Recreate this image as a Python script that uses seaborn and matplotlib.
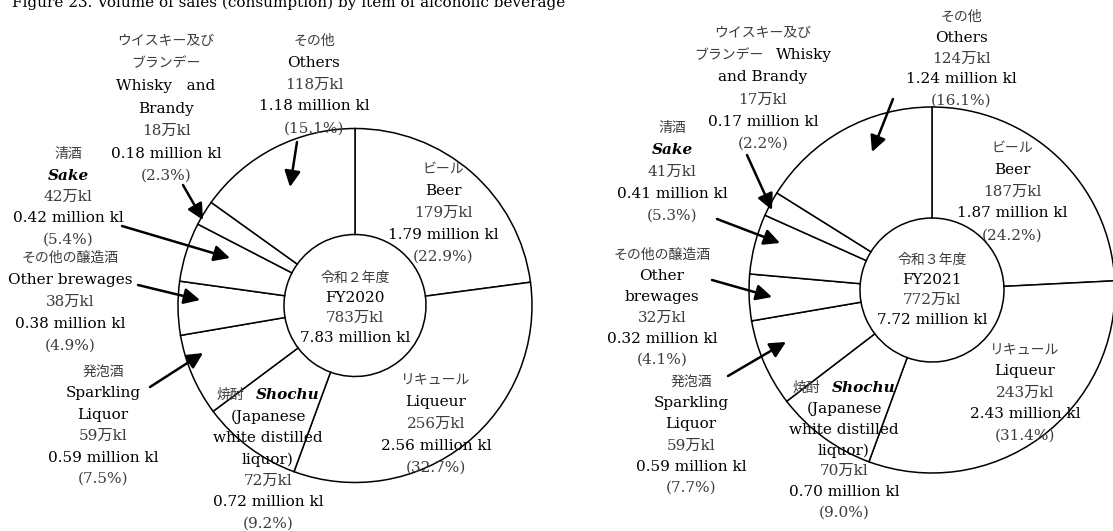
"""Two donut charts: volume of alcoholic beverage sales by item, FY2020 vs FY2021."""
import matplotlib

matplotlib.use("Agg")
import matplotlib.pyplot as plt
import seaborn as sns

W, H = 1113, 531

TITLE = "Figure 23. Volume of sales (consumption) by item of alcoholic beverage"

# wedges go clockwise from 12 o'clock in this order
CATEGORIES = ["beer", "liqueur", "shochu", "sparkling", "other_brew", "sake", "whisky", "others"]

FY2020_MAN_KL = [179, 256, 72, 59, 38, 42, 18, 118]
FY2020_SHARE = [22.9, 32.7, 9.2, 7.5, 4.9, 5.4, 2.3, 15.1]
FY2020_TOTAL = 783
FY2020_CENTRE = ["令和２年度", "FY2020"]

FY2021_MAN_KL = [187, 243, 70, 59, 32, 41, 17, 124]
FY2021_SHARE = [24.2, 31.4, 9.0, 7.7, 4.1, 5.3, 2.2, 16.1]
FY2021_TOTAL = 772
FY2021_CENTRE = ["令和３年度", "FY2021"]

# name lines per category; a tuple is Japanese + English on one line
FY2020_NAMES = [
    ["ビール", "Beer"],
    ["リキュール", "Liqueur"],
    [("焼酎", "Shochu"), "(Japanese", "white distilled", "liquor)"],
    ["発泡酒", "Sparkling", "Liquor"],
    ["その他の醸造酒", "Other brewages"],
    ["清酒", "Sake"],
    ["ウイスキー及び", "ブランデー", "Whisky   and", "Brandy"],
    ["その他", "Others"],
]
FY2021_NAMES = [
    ["ビール", "Beer"],
    ["リキュール", "Liqueur"],
    [("焼酎", "Shochu"), "(Japanese", "white distilled", "liquor)"],
    ["発泡酒", "Sparkling", "Liquor"],
    ["その他の醸造酒", "Other", "brewages"],
    ["清酒", "Sake"],
    ["ウイスキー及び", ("ブランデー", "Whisky"), "and Brandy"],
    ["その他", "Others"],
]
ITALIC_WORDS = {"Sake", "Shochu"}

# ---- layout (pixel coordinates, y downwards) ----
LEFT = dict(
    centre=(355, 305.5), r_out=177, r_in=71, centre_text_y=278,
    labels=[(443, 169), (436, 380), (268, 395), (103, 372),
            (70, 258), (68, 154), (166, 41), (314, 41)],
    steps=[22, 22, 21.5, 21.4, 22, 21.5, 22.5, 21.8],
    arrows={
        "sparkling": ((150, 387), (203, 353)),
        "other_brew": ((138, 285), (200, 300)),
        "sake": ((122, 226), (230, 258)),
        "whisky": ((183, 185), (203, 220)),
        "others": ((297, 142), (290, 187)),
    },
)
RIGHT = dict(
    centre=(932, 290), r_out=183, r_in=72, centre_text_y=260,
    labels=[(1012, 148), (1025, 350), (844, 388), (691, 382),
            (662, 255), (672, 128), (763, 33), (961, 17)],
    steps=[21.8, 21.3, 20.8, 21.2, 21, 22, 22.2, 20.8],
    arrows={
        "sparkling": ((728, 376), (786, 342)),
        "other_brew": ((712, 280), (772, 297)),
        "sake": ((717, 219), (780, 243)),
        "whisky": ((747, 155), (772, 210)),
        "others": ((893, 99), (872, 152)),
    },
)

GREY = "#3c3c3c"
EN_SIZE = 11
JP_SIZE = 10


def is_japanese(s: str) -> bool:
    return any(ord(c) > 127 for c in s)


def style_for(s: str, kind: str = "name") -> dict:
    if kind in ("amount", "share") or is_japanese(s):
        return dict(color=GREY, fontsize=JP_SIZE if is_japanese(s) and kind == "name" else EN_SIZE)
    st = dict(color="black", fontsize=EN_SIZE)
    if s in ITALIC_WORDS:
        st.update(style="italic", fontweight="bold")
    return st


def put_line(ax, renderer, x, y, line, kind="name"):
    if isinstance(line, tuple):
        jp, en = line
        t1 = ax.text(0, y, jp, ha="left", va="center", **style_for(jp))
        t2 = ax.text(0, y, en, ha="left", va="center", **style_for(en))
        w1 = t1.get_window_extent(renderer).width
        w2 = t2.get_window_extent(renderer).width
        gap = 12
        x0 = x - (w1 + gap + w2) / 2
        t1.set_x(x0)
        t2.set_x(x0 + w1 + gap)
    else:
        ax.text(x, y, line, ha="center", va="center", **style_for(line, kind))


def draw_year(ax, renderer, lay, man_kl, share, total, names, centre_lines):
    ax.pie(
        share, center=lay["centre"], radius=lay["r_out"],
        startangle=-90, counterclock=True,  # y axis is flipped
        colors=["white"] * len(share),
        wedgeprops=dict(width=lay["r_out"] - lay["r_in"], edgecolor="black", linewidth=1.1),
    )
    for i, cat in enumerate(CATEGORIES):
        x, y = lay["labels"][i]
        step = lay["steps"][i]
        lines = [(l, "name") for l in names[i]]
        lines += [(f"{man_kl[i]}万kl", "amount"),
                  (f"{man_kl[i] / 100:.2f} million kl", "million"),
                  (f"({share[i]:.1f}%)", "share")]
        for k, (txt, kind) in enumerate(lines):
            put_line(ax, renderer, x, y + k * step, txt, kind)
        if cat in lay["arrows"]:
            start, tip = lay["arrows"][cat]
            ax.annotate("", xy=tip, xytext=start,
                        arrowprops=dict(arrowstyle="-|>", color="black", lw=1.8,
                                        mutation_scale=24, shrinkA=0, shrinkB=0))
    cx = lay["centre"][0]
    y0 = lay["centre_text_y"]
    centre = centre_lines + [f"{total}万kl", f"{total / 100:.2f} million kl"]
    kinds = ["name", "name", "amount", "million"]
    for k, (txt, kind) in enumerate(zip(centre, kinds)):
        put_line(ax, renderer, cx, y0 + k * 20, txt, kind)


def main() -> None:
    sns.set_theme(style="white")
    plt.rcParams["font.family"] = ["DejaVu Serif", "Noto Sans CJK JP"]

    fig = plt.figure(figsize=(W / 100, H / 100), dpi=100)
    fig.patch.set_facecolor("white")
    ax = fig.add_axes([0, 0, 1, 1])
    renderer = fig.canvas.get_renderer()

    draw_year(ax, renderer, LEFT, FY2020_MAN_KL, FY2020_SHARE, FY2020_TOTAL,
              FY2020_NAMES, FY2020_CENTRE)
    draw_year(ax, renderer, RIGHT, FY2021_MAN_KL, FY2021_SHARE, FY2021_TOTAL,
              FY2021_NAMES, FY2021_CENTRE)

    ax.text(12, 7, TITLE, ha="left", va="baseline", fontsize=11, color="black")

    ax.set_xlim(0, W)
    ax.set_ylim(H, 0)
    ax.set_aspect("equal")
    ax.axis("off")
    fig.savefig("out.png", dpi=100, facecolor="white")
    plt.close(fig)


if __name__ == "__main__":
    main()
